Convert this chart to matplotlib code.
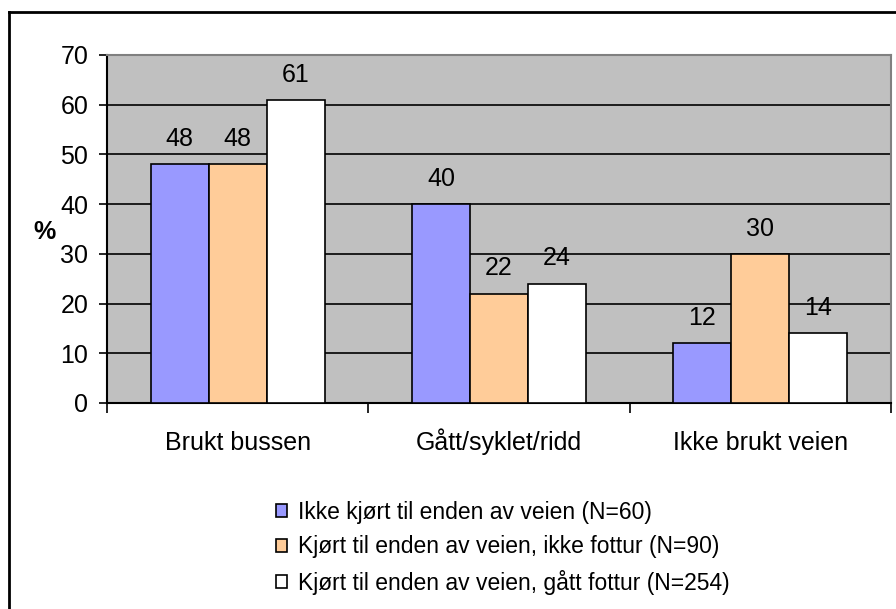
import numpy as np
import matplotlib.pyplot as plt
import matplotlib.transforms as mtransforms
from matplotlib.lines import Line2D

plt.rcParams['font.family'] = ['Liberation Sans', 'DejaVu Sans']

# data
categories = ['Brukt bussen', 'Gått/syklet/ridd', 'Ikke brukt veien']
series = ['Ikke kjørt til enden av veien (N=60)',
          'Kjørt til enden av veien, ikke fottur (N=90)',
          'Kjørt til enden av veien, gått fottur (N=254)']
ikke_kjort = [48, 40, 12]
ikke_fottur = [48, 22, 30]
gatt_fottur = [61, 24, 14]
colors = ['#9999FF', '#FFCC99', '#FFFFFF']

fs = 18
fig = plt.figure(figsize=(8.96, 6.09), dpi=100)
ax = fig.add_axes([107/896, 1-403/609, (891-107)/896, (403-55)/609])
ax.set_facecolor('#C0C0C0')

x = np.arange(len(categories))
w = 1/4.5
bars = []
for i, (vals, c) in enumerate(zip([ikke_kjort, ikke_fottur, gatt_fottur], colors)):
    b = ax.bar(x + (i-1)*w, vals, w, color=c, edgecolor='black', linewidth=1.2,
               label=series[i], zorder=3)
    bars.append(b)
    for xi, v in zip(x + (i-1)*w, vals):
        ax.annotate(str(v), (xi, v), xytext=(0, 9.5), textcoords='offset points',
                    ha='center', va='bottom', fontsize=fs, zorder=4)

ax.set_xlim(-0.5, 2.5)
ax.set_ylim(0, 70)
ax.set_yticks(range(0, 71, 10))
ax.yaxis.grid(True, color='black', linewidth=1.2, zorder=1)
ax.set_axisbelow(True)
ax.tick_params(axis='y', labelsize=fs, length=6, width=1.2, direction='out', pad=7.5)

# category ticks at boundaries, labels in the middle
ax.set_xticks([-0.5, 0.5, 1.5, 2.5])
ax.set_xticklabels([])
ax.tick_params(axis='x', which='major', length=7, width=1.2, direction='out')
trans = mtransforms.blended_transform_factory(ax.transData, ax.transAxes)
for xi, cat in zip(x, categories):
    ax.text(xi, -47/348, cat, transform=trans, ha='center', va='baseline', fontsize=fs)

for s in ['left', 'bottom']:
    ax.spines[s].set_linewidth(1.5)
    ax.spines[s].set_color('black')
for s in ['top', 'right']:
    ax.spines[s].set_color('#808080')
    ax.spines[s].set_linewidth(1.5)

fig.text(44/896, 1-232/609, '%', fontsize=fs, fontweight='bold', ha='center', va='center')

lfs = 16.5
leg = fig.legend(handles=bars, labels=series, loc='upper left',
                 bbox_to_anchor=(276/896, 1-501/609), frameon=False, fontsize=lfs,
                 handlelength=0.48, handleheight=0.48, handletextpad=0.48,
                 labelspacing=0.5, borderaxespad=0, borderpad=0)
for p in leg.get_patches():
    p.set_linewidth(1.2)

# outer frame
fig.add_artist(Line2D([9/896, 9/896], [0, 1-12/609], color='black', linewidth=2))
fig.add_artist(Line2D([9/896, 1], [1-12/609, 1-12/609], color='black', linewidth=2))

fig.savefig('out.png', dpi=100)
